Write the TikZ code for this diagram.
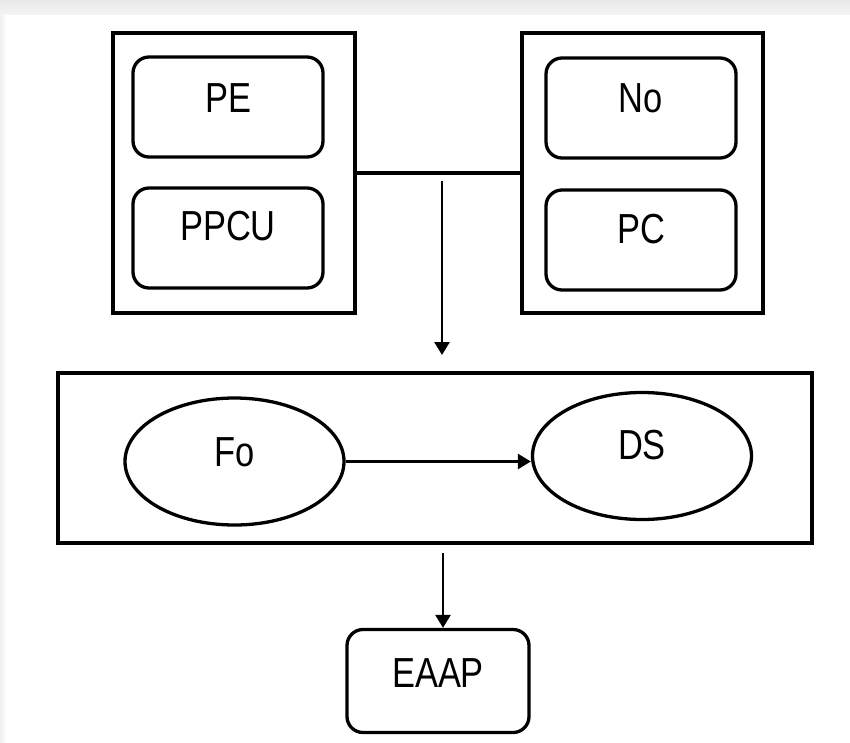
\documentclass[tikz,border=0pt]{standalone}
\usepackage{fontspec}
\setmainfont{Liberation Sans}[FakeStretch=0.82]
\usetikzlibrary{shapes.geometric,arrows.meta}
\begin{document}
\begin{tikzpicture}[x=1pt,y=-1pt,
  outer/.style={draw, line width=4pt, inner sep=0pt, rectangle},
  rbox/.style={draw, line width=3.3pt, rounded corners=16pt, inner sep=0pt,
    minimum width=190pt, minimum height=100pt, font=\fontsize{42}{48}\selectfont,
    text height=30pt},
  ell/.style={draw, line width=3.3pt, ellipse, inner sep=0pt,
    minimum width=219pt, minimum height=127pt, font=\fontsize{42}{48}\selectfont,
    text height=30pt},
  conn/.style={line width=3.3pt},
  arr/.style={line width=2.6pt, -{Triangle[length=13pt,width=15pt]}}
]
\useasboundingbox (0,0) rectangle (850,742);
% screenshot background
\fill[white] (0,0) rectangle (850,742);
\shade[top color={rgb,255:red,232;green,232;blue,232}, bottom color={rgb,255:red,244;green,244;blue,244}] (0,0) rectangle (850,14);
\shade[left color={rgb,255:red,240;green,240;blue,240}, right color=white] (0,14) rectangle (7,742);

% top containers
\node[outer, minimum width=242pt, minimum height=280pt] (lbox) at (234,173) {};
\node[outer, minimum width=241pt, minimum height=280pt] (rbox) at (642.5,173) {};

\node[rbox, text depth=20pt] (pe) at (228,107) {PE};
\node[rbox, text depth=26pt] (ppcu) at (228,238) {PPCU};
\node[rbox, text depth=22pt] (no) at (641,108) {No};
\node[rbox, text depth=24pt] (pc) at (641,240) {PC};

\draw[conn] (lbox.east) -- (rbox.west);
\coordinate (a1s) at (442,181);
\coordinate (a1e) at (442,355);
\draw[arr] (a1s) -- (a1e);

% middle container
\node[outer, minimum width=754pt, minimum height=170pt] (mid) at (435,458) {};
\node[ell, text depth=20pt] (fo) at (234.5,461.5) {Fo};
\node[ell, text depth=24pt] (ds) at (642,456) {DS};
\draw[arr] (fo.east) -- (fo.east -| ds.west);

% bottom
\node[rbox, minimum width=182pt, minimum height=103pt, text depth=18pt] (eaap) at (438,681) {EAAP};
\coordinate (a2s) at (443,553);
\draw[arr] (a2s) -- (a2s |- eaap.north);
\end{tikzpicture}
\end{document}
